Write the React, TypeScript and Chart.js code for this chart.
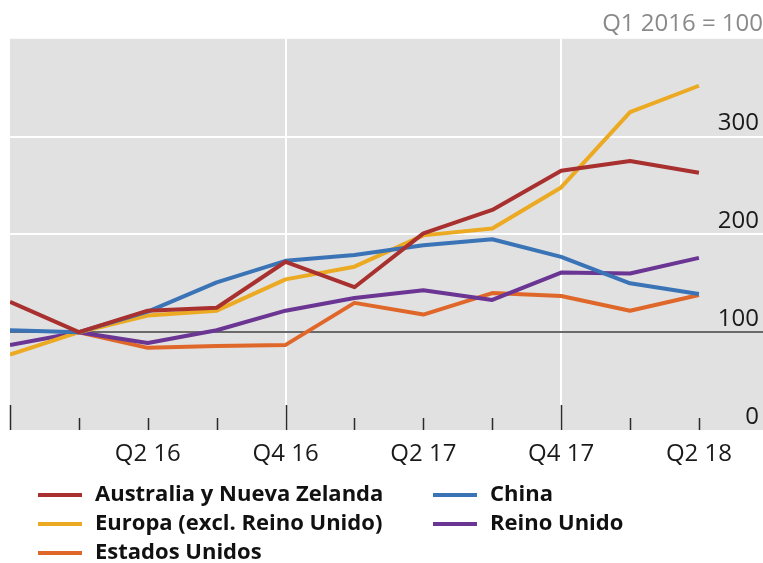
import React, { useEffect, useRef } from "react";
import { Chart, registerables } from "chart.js";

Chart.register(...registerables);

const quarters = ["Q4 15", "Q1 16", "Q2 16", "Q3 16", "Q4 16", "Q1 17", "Q2 17", "Q3 17", "Q4 17", "Q1 18", "Q2 18"];
const australia = [131, 100, 122, 125, 172, 146, 201, 225, 265, 275, 263];
const china = [102, 100, 121, 151, 173, 179, 189, 195, 177, 150, 139];
const europa = [77, 100, 117, 122, 154, 167, 199, 206, 248, 325, 352];
const reinoUnido = [87, 100, 89, 102, 122, 135, 143, 133, 161, 160, 176];
const estadosUnidos = [null, 100, 84, 86, 87, 130, 118, 140, 137, 122, 138];
const seriesNames = ["Australia y Nueva Zelanda", "China", "Europa (excl. Reino Unido)", "Reino Unido", "Estados Unidos"];
const yTickLabels = ["0", "100", "200", "300"];
const title = "Q1 2016 = 100";

const COLORS = ["#a8302f", "#3a74b6", "#eca922", "#6b3593", "#e0672a"];
const BG = "#e1e1e1";

const legendPos = [
  { x: 38, y: 495 },
  { x: 433, y: 495 },
  { x: 38, y: 524 },
  { x: 433, y: 524 },
  { x: 38, y: 553 },
];

const bgPlugin = {
  id: "bgPlugin",
  beforeDraw(chart: any) {
    const { ctx, chartArea } = chart;
    ctx.save();
    ctx.fillStyle = BG;
    ctx.fillRect(chartArea.left, chartArea.top, chartArea.right - chartArea.left, chartArea.bottom - chartArea.top);
    ctx.restore();
  },
  beforeDatasetsDraw(chart: any) {
    const { ctx, chartArea } = chart;
    const xs = chart.scales.x;
    ctx.save();
    ctx.strokeStyle = "#2a2a2a";
    ctx.lineWidth = 1.5;
    for (let i = 0; i < quarters.length; i++) {
      const px = Math.round(xs.getPixelForValue(i)) + 0.5;
      const len = i % 4 === 0 ? 25 : 12;
      ctx.beginPath();
      ctx.moveTo(px, chartArea.bottom - len);
      ctx.lineTo(px, chartArea.bottom);
      ctx.stroke();
    }
    ctx.restore();
  },
  afterDraw(chart: any) {
    const { ctx } = chart;
    ctx.save();
    ctx.font = "bold 22px 'Open Sans'";
    ctx.textBaseline = "middle";
    ctx.textAlign = "left";
    seriesNames.forEach((name, i) => {
      const p = legendPos[i];
      ctx.strokeStyle = COLORS[i];
      ctx.lineWidth = 4;
      ctx.beginPath();
      ctx.moveTo(p.x, p.y);
      ctx.lineTo(p.x + 44, p.y);
      ctx.stroke();
      ctx.fillStyle = "#111";
      ctx.fillText(name, p.x + 57, p.y);
    });
    ctx.restore();
  },
};

export default function App() {
  const ref = useRef<HTMLCanvasElement>(null);
  useEffect(() => {
    if (!ref.current) return;
    const series = [australia, china, europa, reinoUnido, estadosUnidos];
    const chart = new Chart(ref.current, {
      type: "line",
      data: {
        datasets: series.map((s, k) => ({
          label: seriesNames[k],
          data: s.map((v, i) => ({ x: i, y: v as any })),
          borderColor: COLORS[k],
          backgroundColor: COLORS[k],
          borderWidth: 4,
          pointRadius: 0,
          tension: 0,
          borderJoinStyle: "round" as const,
        })),
      },
      options: {
        animation: false,
        responsive: false,
        devicePixelRatio: 1,
        layout: { padding: { left: 10, right: 0, top: 0, bottom: 93 } },
        plugins: {
          legend: { display: false },
          tooltip: { enabled: false },
          title: {
            display: true,
            text: title,
            align: "end",
            color: "#8a8a8a",
            font: { family: "'Open Sans'", size: 24, weight: "normal" as any, lineHeight: 1.2 },
            padding: { top: 10, bottom: 0 },
          },
        },
        scales: {
          x: {
            type: "linear",
            min: 0,
            max: 10.93,
            afterFit(scale: any) {
              scale.height = 40;
            },
            border: { display: false },
            grid: {
              drawTicks: false,
              lineWidth: 2,
              color: (c: any) => (c.tick && (c.tick.value === 4 || c.tick.value === 8) ? "#ffffff" : "rgba(0,0,0,0)"),
            },
            ticks: {
              stepSize: 1,
              includeBounds: false,
              autoSkip: false,
              maxRotation: 0,
              padding: 10,
              color: "#1a1a1a",
              font: { family: "'Open Sans'", size: 24 },
              callback: (v: any) => {
                const i = Number(v);
                if (Number.isInteger(i) && i > 0 && i % 2 === 0 && i < quarters.length) return quarters[i];
                return "";
              },
            },
          },
          y: {
            position: "right",
            min: 0,
            max: 400,
            afterFit(scale: any) {
              scale.width = 0;
            },
            border: { display: false },
            grid: {
              drawTicks: false,
              lineWidth: 2,
              color: (c: any) => {
                const v = c.tick ? c.tick.value : -1;
                if (v === 100) return "#6a6a6a";
                if (v === 200 || v === 300) return "#ffffff";
                return "rgba(0,0,0,0)";
              },
            },
            ticks: {
              stepSize: 100,
              mirror: true,
              padding: -4,
              labelOffset: -13,
              color: "#1a1a1a",
              font: { family: "'Open Sans'", size: 24 },
              callback: (v: any) => {
                const i = Number(v) / 100;
                return yTickLabels[i] ?? "";
              },
            },
          },
        },
      },
      plugins: [bgPlugin],
    });
    return () => chart.destroy();
  }, []);
  return (
    <div style={{ position: "absolute", left: 0, top: 0, width: 763, height: 563 }}>
      <canvas ref={ref} width={763} height={563} />
    </div>
  );
}
